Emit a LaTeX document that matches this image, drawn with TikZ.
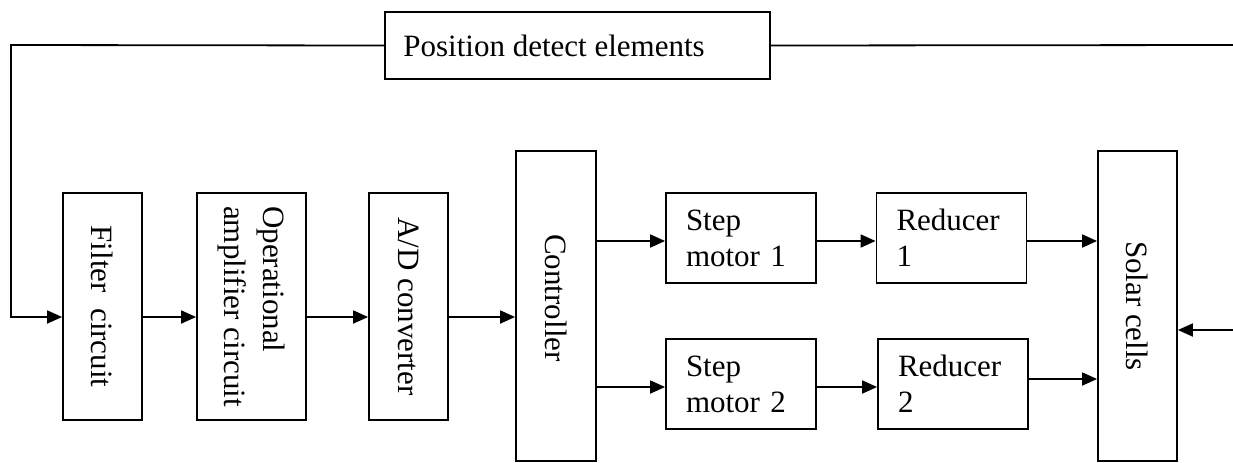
\documentclass[tikz,border=0pt]{standalone}
\usepackage{fontspec}
\setmainfont{Liberation Serif}
\usetikzlibrary{arrows.meta,calc}
\begin{document}
\begin{tikzpicture}[x=0.5pt,y=-0.5pt,
  font=\fontsize{15.5}{18}\selectfont,
  box/.style={draw,line width=0.9pt,inner sep=0pt},
  lbox/.style={draw,line width=0.9pt,text width=55pt,align=left,inner xsep=10pt,inner ysep=0pt,minimum height=45pt},
  vtext/.style={rotate=-90,align=left,inner sep=0pt},
  conn/.style={line width=0.9pt,-{Triangle[length=7.5pt,width=6.5pt]}},
  line/.style={line width=0.9pt}]
\useasboundingbox (0,0) rectangle (1233,462);
% nodes
\node[box,minimum width=192.5pt,minimum height=33.5pt] (pos) at (577.5,45.5) {};
\node[anchor=west,inner sep=0pt] (postext) at (403,45.5) {Position detect elements};
\node[box,minimum width=39.5pt,minimum height=113.5pt] (filter) at (102.5,306.5) {};
\node[vtext] (filtertext) at (filter) {Filter~~circuit};
\node[box,minimum width=54.5pt,minimum height=113.5pt] (opamp) at (251.5,306.5) {};
\node[vtext,font=\fontsize{15.5}{19.5}\selectfont] (opamptext) at (opamp) {Operational\\amplifier circuit};
\node[box,minimum width=39.5pt,minimum height=113.5pt] (ad) at (408.5,306.5) {};
\node[vtext] (adtext) at (ad) {A/D converter};
\node[box,minimum width=40pt,minimum height=155pt] (ctrl) at (556,306) {};
\node[vtext] (ctrltext) at ($(ctrl)+(0,-8)$) {Controller};
\node[lbox] (sm1) at (741,238) {Step\\motor 1};
\node[lbox] (sm2) at (741,384) {Step\\motor 2};
\node[lbox] (r1) at (951.5,238) {Reducer\\1};
\node[lbox] (r2) at (953,384) {Reducer\\2};
\node[box,minimum width=39.5pt,minimum height=155pt] (solar) at (1137.5,306) {};
\node[vtext] (solartext) at (solar) {Solar cells};
% free ends
\coordinate (tr) at (1233,45);
\coordinate (tl) at (11,45);
\coordinate (row) at (0,317);
\coordinate (rowa) at (0,241);
\coordinate (rowb) at (0,387);
\coordinate (rowc) at (0,379);
\coordinate (rr) at (1233,330);
% connectors
\draw[line] (tr) -- (pos.east);
\draw[conn] (pos.west) -- (tl) -- (tl |- row) -- (filter.west |- row);
\draw[conn] (filter.east |- row) -- (opamp.west |- row);
\draw[conn] (opamp.east |- row) -- (ad.west |- row);
\draw[conn] (ad.east |- row) -- (ctrl.west |- row);
\draw[conn] (ctrl.east |- rowa) -- (sm1.west |- rowa);
\draw[conn] (sm1.east |- rowa) -- (r1.west |- rowa);
\draw[conn] (r1.east |- rowa) -- (solar.west |- rowa);
\draw[conn] (ctrl.east |- rowb) -- (sm2.west |- rowb);
\draw[conn] (sm2.east |- rowb) -- (r2.west |- rowb);
\draw[conn] (r2.east |- rowc) -- (solar.west |- rowc);
\draw[conn] (rr) -- (solar.east |- rr);
\end{tikzpicture}
\end{document}
